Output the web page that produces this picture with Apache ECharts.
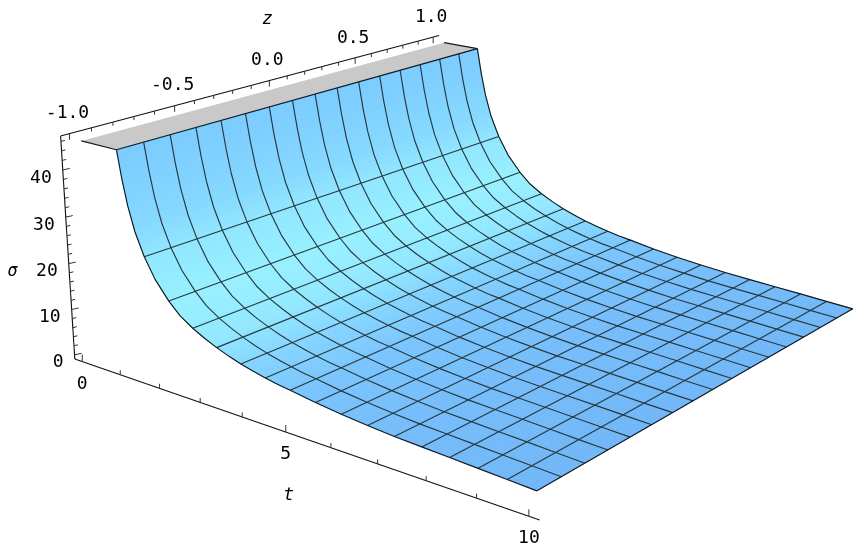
<!DOCTYPE html><html><head><meta charset="utf-8"><style>html,body{margin:0;background:#fff}#c{width:867px;height:555px}</style>
<script src="https://cdn.jsdelivr.net/npm/echarts@6/dist/echarts.min.js"></script></head><body><div id="c"></div><script>
// values
const curveT=[1,1.1,1.21,1.36,1.5625,1.81,2.125,2.39,2.6875,2.98,3.25,3.54,3.8125,4.12,4.375,4.66,4.9375,5.5,6.0625,6.625,7.1875,7.75,8.3125,8.875,9.4375,10];
const curveSigma=[46.2,40.2,35.0,29.9,25.2,21.0,17.3,14.9,13.1,11.7,10.6,9.6,8.8,8.1,7.55,7.05,6.7,5.87,5.23,4.73,4.32,4.05,3.8,3.55,3.27,3.02];
const meshT=[1,1.5625,2.125,2.6875,3.25,3.8125,4.375,4.9375,5.5,6.0625,6.625,7.1875,7.75,8.3125,8.875,9.4375,10];
const meshZ=[-1,-.875,-.75,-.625,-.5,-.375,-.25,-.125,0,.125,.25,.375,.5,.625,.75,.875,1];
const capT=[0.1,1];
const capSigma=46.2;
const axisT=[-.2,10.2];
const axisZ=[-1.04,1.04];
const axisSigma=[-.92,47.1];
const tTicks=[0,1,2,3,4,5,6,7,8,9,10];
const tLabels=[0,5,10];
const zTicks=[-1,-.9,-.8,-.7,-.6,-.5,-.4,-.3,-.2,-.1,0,.1,.2,.3,.4,.5,.6,.7,.8,.9,1];
const zLabels=[-1,-.5,0,.5,1];
const sigmaTicks=[0,2,4,6,8,10,12,14,16,18,20,22,24,26,28,30,32,34,36,38,40,42,44,46];
const sigmaLabels=[0,10,20,30,40];
// shade of the surface along t
const shadeT=[1,1.36,1.5625,2.125,3,4,5,7,10];
const shadeColor=['#7acbff','#85daff','#8fe6ff','#96f0ff','#90e8ff','#80d2ff','#78c4fd','#74bcfa','#70b6f8'];
// camera of the 3D box
const M=[32.44157,201.6136,-0.3028153,283.4385,6.353701,-38.85271,-4.270723,281.0525,-0.01466998,0.09662706,-0.0005894765,1];
const project=(t,z,s)=>{const w=M[8]*t+M[9]*z+M[10]*s+1;return[(M[0]*t+M[1]*z+M[2]*s+M[3])/w,(M[4]*t+M[5]*z+M[6]*s+M[7])/w];};
const hex=c=>[1,3,5].map(i=>parseInt(c.substr(i,2),16));
function shade(t){let i=0;while(i<shadeT.length-2&&t>shadeT[i+1])i++;const f=Math.min(1,Math.max(0,(t-shadeT[i])/(shadeT[i+1]-shadeT[i])));const a=hex(shadeColor[i]),b=hex(shadeColor[i+1]);return'rgb('+a.map((v,k)=>Math.round(v+(b[k]-v)*f)).join(',')+')';}
const sub=10;
const strips=[];
for(let i=0;i<curveT.length-1;i++)for(let j=0;j<sub;j++){const f=j/sub,g=(j+1)/sub;const l=(A,x)=>A[i]+(A[i+1]-A[i])*x;strips.push([l(curveT,f),l(curveSigma,f),l(curveT,g),l(curveSigma,g)]);}
const sigmaAt=t=>curveSigma[curveT.indexOf(t)];
const curveAt=z=>curveT.map((t,i)=>[t,z,curveSigma[i]]);
const R=(render,n)=>({type:'custom',coordinateSystem:'cartesian2d',clip:false,silent:true,data:Array.from({length:n},(_,i)=>[i,i]),renderItem:render});
const C=(api,p)=>api.coord(project(p[0],p[1],p[2]));
const line=(api,pts,stroke,w)=>({type:'polyline',shape:{points:pts.map(p=>C(api,p))},style:{stroke,fill:null,lineWidth:w,lineJoin:'round'}});
const MESH='#26393f',EDGE='#101a20',AX='#111';
const meshLines=[...meshT.slice(1,-1).map(t=>[[t,-1,sigmaAt(t)],[t,1,sigmaAt(t)]]),...meshZ.slice(1,-1).map(curveAt)];
const edgeLines=[curveAt(-1),curveAt(1),[[10,-1,sigmaAt(10)],[10,1,sigmaAt(10)]],[[1,-1,capSigma],[1,1,capSigma]],[[capT[0],-1,capSigma],[capT[1],-1,capSigma]],[[capT[0],1,capSigma],[capT[1],1,capSigma]]];
const zb=axisZ[0],sb=axisSigma[0],tb=axisT[0],st=axisSigma[1];
const axes=[[[axisT[0],zb,sb],[axisT[1],zb,sb]],[[tb,zb,sb],[tb,zb,st]],[[tb,axisZ[0],st],[tb,axisZ[1],st]]];
const ticks=[...tTicks.map(t=>({p:[t,zb,sb],d:tLabels.includes(t)?[0,-7]:[0,-4.5]})),...zTicks.map(z=>({p:[tb,z,st],d:zLabels.includes(z)?[0,6]:[0,3.5]})),...sigmaTicks.map(s=>({p:[tb,zb,s],d:sigmaLabels.includes(s)?[7,-1.5]:[4,-1]}))];
const MONO='"DejaVu Sans Mono"';
const F='18px '+MONO;
const labels=[...tLabels.map(t=>({p:[t,zb,sb],d:[0,22.5],text:String(t),font:F})),...zLabels.map(z=>({p:[tb,z,st],d:[-2,-20],text:(z<0?'-':'')+Math.abs(z).toFixed(1),font:F})),...sigmaLabels.map(s=>({p:[tb,zb,s],d:[-11,8],text:String(s),font:F,align:'right'})),
{p:[5,zb,sb],d:[3,63],text:'t',font:'italic 18px '+MONO},{p:[tb,0,st],d:[-2,-61],text:'z',font:'italic 18px '+MONO},{p:[tb,zb,20],d:[-56,8],text:'σ',font:'italic 17px '+MONO}];
const option={animation:false,backgroundColor:'#fff',grid:{left:0,right:0,top:0,bottom:0},
 xAxis:{type:'value',min:0,max:867,show:false},yAxis:{type:'value',min:0,max:555,inverse:true,show:false},
 series:[
 R((p,api)=>({type:'polygon',shape:{points:[[capT[0],-1],[capT[1],-1],[capT[1],1],[capT[0],1]].map(q=>C(api,[q[0],q[1],capSigma]))},style:{fill:'#c9c9c9'}}),1),
 R((p,api)=>{const s=strips[p.dataIndex];const c=shade((s[0]+s[2])/2);return{type:'polygon',shape:{points:[[s[0],-1,s[1]],[s[2],-1,s[3]],[s[2],1,s[3]],[s[0],1,s[1]]].map(q=>C(api,q))},style:{fill:c,stroke:c,lineWidth:.6}};},strips.length),
 R((p,api)=>line(api,meshLines[p.dataIndex],MESH,1.15),meshLines.length),
 R((p,api)=>line(api,edgeLines[p.dataIndex],EDGE,1.15),edgeLines.length),
 R((p,api)=>line(api,axes[p.dataIndex],AX,1.1),axes.length),
 R((p,api)=>{const k=ticks[p.dataIndex],a=C(api,k.p);return{type:'line',shape:{x1:a[0],y1:a[1],x2:a[0]+k.d[0],y2:a[1]+k.d[1]},style:{stroke:'#333',lineWidth:1}};},ticks.length),
 R((p,api)=>{const k=labels[p.dataIndex],a=C(api,k.p);return{type:'text',style:{x:a[0]+k.d[0],y:a[1]+k.d[1],text:k.text,font:k.font,fill:'#000',align:k.align||'center',verticalAlign:'middle'}};},labels.length)
 ]};
echarts.init(document.getElementById('c'),null,{renderer:'canvas'}).setOption(option);
</script></body></html>
